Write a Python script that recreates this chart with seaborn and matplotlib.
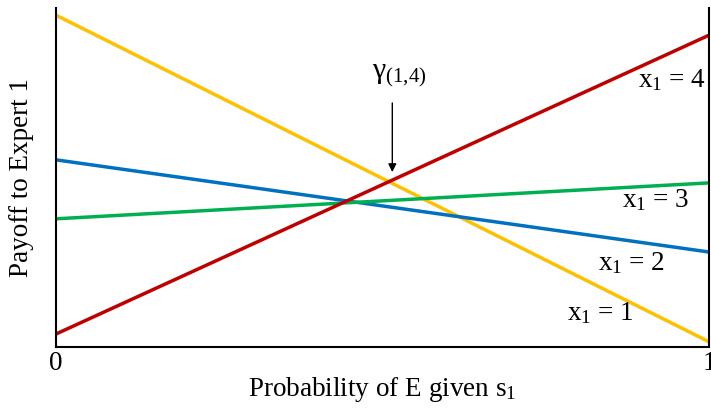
import numpy as np
import pandas as pd
import seaborn as sns
import matplotlib.pyplot as plt

# endpoints of each payoff line (at probability 0 and 1)
prob = [0, 1]
payoff_x1 = [0.979, 0.015]
payoff_x2 = [0.552, 0.280]
payoff_x3 = [0.378, 0.484]
payoff_x4 = [0.038, 0.920]
line_names = ['x1 = 1', 'x1 = 2', 'x1 = 3', 'x1 = 4']
line_colors = ['#FFC000', '#0070C0', '#00B050', '#C00000']

sns.set_theme(style='white')
plt.rcParams['font.family'] = ['Liberation Serif', 'DejaVu Serif']
plt.rcParams['mathtext.fontset'] = 'custom'
plt.rcParams['mathtext.rm'] = 'Liberation Serif'
plt.rcParams['mathtext.it'] = 'Liberation Serif'
plt.rcParams['text.color'] = 'black'

df = pd.DataFrame({
    'prob': prob * 4,
    'payoff': payoff_x1 + payoff_x2 + payoff_x3 + payoff_x4,
    'line': [n for n in line_names for _ in prob],
})

fig, ax = plt.subplots(figsize=(7.11, 4.08), dpi=100)
sns.lineplot(data=df, x='prob', y='payoff', hue='line', palette=line_colors,
             linewidth=2.5, legend=False, ax=ax)

fs = 19.5
ax.set_xlim(0, 1)
ax.set_ylim(0, 1)
ax.set_xticks([0, 1])
ax.set_xticklabels(['0', '1'], fontsize=fs, color='black')
ax.set_yticks([])
ax.tick_params(axis='x', length=0, pad=3)
ax.set_xlabel('Probability of E given s$_1$', fontsize=fs, color='black', labelpad=-1)
ax.set_ylabel('Payoff to Expert 1', fontsize=fs, color='black', labelpad=16)
for side in ['left', 'bottom', 'right']:
    ax.spines[side].set_color('black')
    ax.spines[side].set_linewidth(1.5)
ax.spines['top'].set_visible(False)

lab_kw = dict(fontsize=fs, ha='center', va='center', color='black')
ax.text(0.943, 0.788, 'x$_1$ = 4', **lab_kw)
ax.text(0.919, 0.434, 'x$_1$ = 3', **lab_kw)
ax.text(0.882, 0.248, 'x$_1$ = 2', **lab_kw)
ax.text(0.833, 0.10, 'x$_1$ = 1', **lab_kw)

ax.text(0.525, 0.80, 'γ$_{(1{,}4)}$', fontsize=fs + 2, ha='center', va='center')
ax.annotate('', xy=(0.515, 0.516), xytext=(0.515, 0.72),
            arrowprops=dict(arrowstyle='-|>', color='black', lw=1,
                            shrinkA=0, shrinkB=0))

plt.subplots_adjust(left=0.079, right=0.997, top=0.98, bottom=0.15)
plt.savefig('out.png', dpi=100)
